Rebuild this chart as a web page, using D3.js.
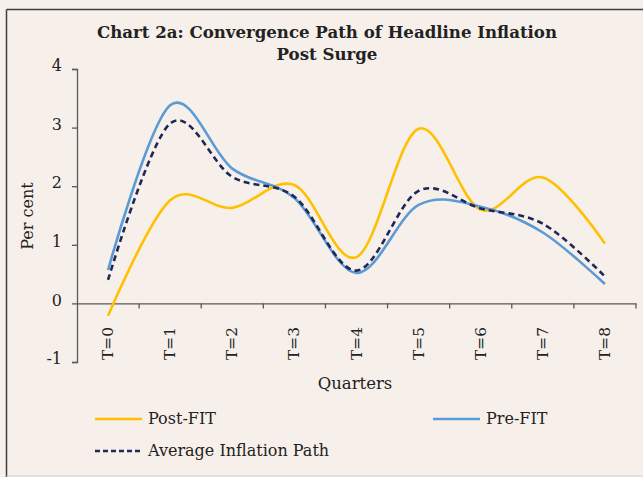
<!DOCTYPE html>
<html lang="en">
<head>
    <meta charset="UTF-8">
    <title>Chart 2a</title>
    <script src="https://cdn.jsdelivr.net/npm/d3@7"></script>
    <style>
        body{margin:0; background:#f7f0ea;}
        svg{display:block;}
        text{font-family:"DejaVu Serif", serif; fill:#222;}
    </style>
</head>
<body>
    <svg id="chart" width="643" height="477"></svg>
    <script>
        // data
        var quarters = ["T=0","T=1","T=2","T=3","T=4","T=5","T=6","T=7","T=8"];
        var postFit = [-0.21, 1.76, 1.63, 2.02, 0.79, 2.98, 1.60, 2.15, 1.02];
        var preFit  = [0.57, 3.38, 2.30, 1.80, 0.52, 1.68, 1.65, 1.21, 0.33];
        var avgPath = [0.40, 3.07, 2.16, 1.82, 0.56, 1.92, 1.62, 1.36, 0.46];
        var yTicks = [-1, 0, 1, 2, 3, 4];

        var svg = d3.select("#chart");

        // frame
        svg.append("rect").attr("x",0).attr("y",0).attr("width",643).attr("height",477).attr("fill","#f7f0ea");
        svg.append("line").attr("x1",6.5).attr("x2",6.5).attr("y1",9.5).attr("y2",477).attr("stroke","#3d3d3d").attr("stroke-width",1.5);
        svg.append("line").attr("x1",6.5).attr("x2",643).attr("y1",9.5).attr("y2",9.5).attr("stroke","#3d3d3d").attr("stroke-width",1.5);
        svg.append("line").attr("x1",6.5).attr("x2",643).attr("y1",476).attr("y2",476).attr("stroke","#cfcfcf").attr("stroke-width",1);

        // title
        svg.append("text").attr("x",327).attr("y",38).attr("text-anchor","middle")
           .style("font-weight","bold").style("font-size","16.6px")
           .text("Chart 2a: Convergence Path of Headline Inflation");
        svg.append("text").attr("x",327).attr("y",60).attr("text-anchor","middle")
           .style("font-weight","bold").style("font-size","16.6px")
           .text("Post Surge");

        var x = d3.scalePoint().domain(quarters).range([77,636]).padding(0.5);
        var xBand = d3.scaleBand().domain(quarters).range([77,636]);
        var y = d3.scaleLinear().domain([-1,4]).range([362,69]);

        // y axis
        var yAxis = svg.append("g")
           .attr("transform","translate(77,0)")
           .call(d3.axisLeft(y).tickValues(yTicks).tickSize(5).tickFormat(function(d){ return String(d); }));
        yAxis.select(".domain").attr("stroke","#595959").attr("stroke-width",1.3);
        yAxis.selectAll(".tick line").attr("stroke","#595959").attr("stroke-width",1.3);
        yAxis.selectAll(".tick text").attr("x",-15).attr("dy","0.1em")
             .style("font-size","16px").style("font-family","DejaVu Serif").attr("fill","#222");

        // x axis at zero
        var xAxis = svg.append("g")
           .attr("transform","translate(0,"+y(0)+")")
           .call(d3.axisBottom(xBand).tickSize(0).tickFormat(""));
        xAxis.select(".domain").attr("stroke","#595959").attr("stroke-width",1.3);
        xAxis.selectAll(".tick").remove();
        var bounds = quarters.map(function(q){ return xBand(q); }).concat([636]);
        xAxis.selectAll("line.bnd").data(bounds.slice(1)).enter().append("line")
             .attr("class","bnd")
             .attr("x1",function(d){ return d; }).attr("x2",function(d){ return d; })
             .attr("y1",0).attr("y2",5)
             .attr("stroke","#595959").attr("stroke-width",1.3);

        svg.selectAll("text.xlab").data(quarters).enter().append("text")
           .attr("class","xlab")
           .attr("transform",function(d){ return "translate("+(x(d)+5)+",327) rotate(-90)"; })
           .attr("text-anchor","end")
           .style("font-size","15.4px")
           .text(function(d){ return d; });

        svg.append("text").attr("x",355).attr("y",389).attr("text-anchor","middle")
           .style("font-size","16.5px").text("Quarters");
        svg.append("text").attr("transform","translate(33,216) rotate(-90)").attr("text-anchor","middle")
           .style("font-size","16px").text("Per cent");

        // lines
        var line = d3.line()
            .x(function(d,i){ return x(quarters[i]); })
            .y(function(d){ return y(d); })
            .curve(d3.curveCardinal.tension(0));

        var series = [
            {name:"Post-FIT", values:postFit, color:"#ffc000", dash:null},
            {name:"Pre-FIT", values:preFit, color:"#5b9bd5", dash:null},
            {name:"Average Inflation Path", values:avgPath, color:"#1f2859", dash:"6,4"}
        ];

        svg.selectAll("path.series").data(series).enter().append("path")
           .attr("class","series")
           .attr("d",function(d){ return line(d.values); })
           .attr("fill","none")
           .attr("stroke",function(d){ return d.color; })
           .attr("stroke-width",2.6)
           .attr("stroke-dasharray",function(d){ return d.dash; });

        // legend
        var legendPos = [[95,419],[433,419],[95,451]];
        var lg = svg.selectAll("g.leg").data(series).enter().append("g")
           .attr("class","leg")
           .attr("transform",function(d,i){ return "translate("+legendPos[i][0]+","+legendPos[i][1]+")"; });
        lg.append("line").attr("x1",0).attr("x2",47).attr("y1",0).attr("y2",0)
          .attr("stroke",function(d){ return d.color; })
          .attr("stroke-width",2.6)
          .attr("stroke-dasharray",function(d){ return d.dash ? "5,3" : null; });
        lg.append("text").attr("x",53).attr("y",5).style("font-size","16px")
          .text(function(d){ return d.name; });
    </script>
</body>
</html>
